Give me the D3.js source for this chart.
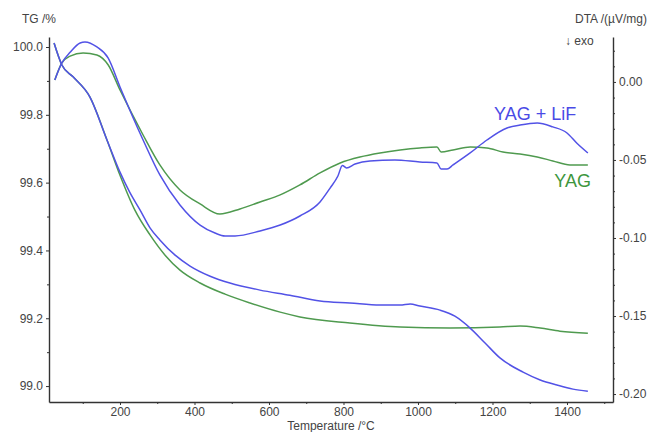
<!DOCTYPE html>
<html><head><meta charset="utf-8">
<script src="https://cdn.jsdelivr.net/npm/d3@7"></script>
<style>
body{margin:0;background:#fff}
text{font-family:"Liberation Sans",Arial,sans-serif}
</style>
</head><body>
<svg id="c" width="651" height="432"></svg>
<script>
// ---- data ----
const xTicks = [200, 400, 600, 800, 1000, 1200, 1400];
const xMinorTicks = [100, 300, 500, 700, 900, 1100, 1300, 1500];
const tgTicks = [99.0, 99.2, 99.4, 99.6, 99.8, 100.0];
const tgMinorTicks = [99.1, 99.3, 99.5, 99.7, 99.9];
const dtaTicks = [0.00, -0.05, -0.10, -0.15, -0.20];
const dtaMinorTicks = [0.02, 0.01, -0.01, -0.02, -0.03, -0.04, -0.06, -0.07, -0.08, -0.09, -0.11, -0.12, -0.13, -0.14, -0.16, -0.17, -0.18, -0.19];

// TG curves [temperature °C, TG %]
const tgLiF = [[23,100.012],[44,99.947],[74,99.912],[119,99.853],[165,99.726],[200,99.631],[226,99.572],[254,99.519],[281,99.466],[307,99.431],[348,99.386],[388,99.354],[442,99.324],[495,99.304],[576,99.283],[656,99.268],[737,99.251],[817,99.245],[898,99.239],[952,99.239],[979,99.242],[1005,99.236],[1059,99.224],[1099,99.206],[1140,99.171],[1180,99.127],[1220,99.083],[1282,99.041],[1328,99.018],[1373,99.003],[1416,98.991],[1456,98.985]];
const tgYAG = [[23,100.012],[44,99.947],[74,99.912],[119,99.853],[165,99.726],[200,99.622],[240,99.519],[281,99.445],[321,99.386],[361,99.342],[415,99.304],[482,99.271],[549,99.245],[630,99.218],[683,99.204],[817,99.186],[952,99.174],[1086,99.171],[1220,99.174],[1274,99.177],[1328,99.171],[1381,99.162],[1456,99.156]];

// DTA curves [temperature °C, DTA µV/mg]
const dtaLiF = [[25,0.0013],[44,0.0122],[66,0.019],[93,0.025],[106,0.0256],[138,0.0224],[168,0.0154],[200,-0.0032],[262,-0.0372],[307,-0.0596],[361,-0.0788],[415,-0.0917],[455,-0.0968],[482,-0.0987],[509,-0.0987],[576,-0.0955],[630,-0.0917],[683,-0.0859],[737,-0.0769],[764,-0.068],[785,-0.0603],[797,-0.0535],[808,-0.0551],[831,-0.0526],[871,-0.0506],[938,-0.05],[1005,-0.0513],[1051,-0.0519],[1062,-0.0558],[1078,-0.0558],[1094,-0.0532],[1140,-0.0455],[1185,-0.0372],[1239,-0.0295],[1274,-0.0276],[1320,-0.0263],[1362,-0.0288],[1400,-0.0327],[1426,-0.0391],[1456,-0.0455]];
const dtaYAG = [[25,0.0013],[44,0.0122],[66,0.0165],[101,0.0186],[138,0.0173],[168,0.011],[200,-0.0051],[262,-0.034],[307,-0.0532],[361,-0.0692],[415,-0.0782],[468,-0.0846],[522,-0.0814],[576,-0.0769],[630,-0.0724],[683,-0.066],[737,-0.0583],[791,-0.0519],[844,-0.0481],[898,-0.0455],[952,-0.0436],[1005,-0.0423],[1051,-0.0417],[1062,-0.0449],[1094,-0.0436],[1140,-0.0417],[1185,-0.0423],[1228,-0.0449],[1274,-0.0462],[1320,-0.0481],[1362,-0.0506],[1408,-0.0532],[1456,-0.0532]];

const labels = {tg:"TG /%", dta:"DTA /(µV/mg)", exo:"↓ exo", x:"Temperature /°C", lif:"YAG + LiF", yag:"YAG"};
const colors = {lif:"#5252e6", yag:"#4f9a4f", lifText:"#4a4ae6", yagText:"#3d963d", axis:"#333", text:"#444"};

// ---- scales ----
const svg = d3.select("#c");
const L = 49, R = 613, T = 37, B = 402;
const x = d3.scaleLinear().domain([9.4, 1523.5]).range([L, R]);
const yTG = d3.scaleLinear().domain([98.953, 100.0295]).range([B, T]);
const yDTA = d3.scaleLinear().domain([-0.2051, 0.0288]).range([B, T]);

function styleAxis(g){
  g.selectAll(".domain").attr("stroke", colors.axis).attr("stroke-width", 1.4);
  g.selectAll(".tick line").attr("stroke", colors.axis);
  g.selectAll(".tick text").attr("fill", colors.text).attr("font-size", 12)
    .attr("font-family", '"Liberation Sans",Arial,sans-serif');
}

// minor ticks
svg.append("g").attr("transform", `translate(0,${B})`)
  .call(d3.axisBottom(x).tickValues(xMinorTicks.filter(v=>v<1523)).tickSize(2).tickFormat("").tickSizeOuter(0))
  .call(g=>g.select(".domain").remove()).call(styleAxis);
svg.append("g").attr("transform", `translate(${L},0)`)
  .call(d3.axisLeft(yTG).tickValues(tgMinorTicks).tickSize(2).tickFormat("").tickSizeOuter(0))
  .call(g=>g.select(".domain").remove()).call(styleAxis);
svg.append("g").attr("transform", `translate(${R},0)`)
  .call(d3.axisRight(yDTA).tickValues(dtaMinorTicks).tickSize(2).tickFormat("").tickSizeOuter(0))
  .call(g=>g.select(".domain").remove()).call(styleAxis);

// major axes
svg.append("g").attr("transform", `translate(0,${B})`)
  .call(d3.axisBottom(x).tickValues(xTicks).tickSize(3).tickPadding(2).tickFormat(d3.format("d")).tickSizeOuter(0))
  .call(styleAxis);
svg.append("g").attr("transform", `translate(${L},0)`)
  .call(d3.axisLeft(yTG).tickValues(tgTicks).tickSize(3).tickPadding(3).tickFormat(d=>d.toFixed(1)).tickSizeOuter(0))
  .call(styleAxis);
svg.append("g").attr("transform", `translate(${R},0)`)
  .call(d3.axisRight(yDTA).tickValues(dtaTicks).tickSize(3).tickPadding(3).tickFormat(d=>(Math.abs(d)<1e-9?0:d).toFixed(2)).tickSizeOuter(0))
  .call(styleAxis);

// lines
const lineTG = d3.line().x(d=>x(d[0])).y(d=>yTG(d[1])).curve(d3.curveMonotoneX);
const lineDTA = d3.line().x(d=>x(d[0])).y(d=>yDTA(d[1])).curve(d3.curveMonotoneX);
const plots = [
  [tgYAG, lineTG, colors.yag],
  [dtaYAG, lineDTA, colors.yag],
  [tgLiF, lineTG, colors.lif],
  [dtaLiF, lineDTA, colors.lif]
];
plots.forEach(([data, gen, col]) => {
  svg.append("path").datum(data).attr("d", gen).attr("fill","none")
    .attr("stroke", col).attr("stroke-width", 1.5).attr("stroke-linejoin","round");
});

// text labels
const txt = (s, px, py, opts={}) => svg.append("text").text(s).attr("x", px).attr("y", py)
  .attr("font-size", opts.size||12).attr("fill", opts.fill||colors.text)
  .attr("text-anchor", opts.anchor||"start");
txt(labels.tg, 22, 23);
txt(labels.dta, 647, 23, {anchor:"end"});
txt(labels.exo, 565, 45);
txt(labels.x, 331, 429.5, {anchor:"middle"});
txt(labels.lif, 494, 120, {size:18, fill:colors.lifText});
txt(labels.yag, 591, 187, {size:18, fill:colors.yagText, anchor:"end"});
</script>
</body></html>
